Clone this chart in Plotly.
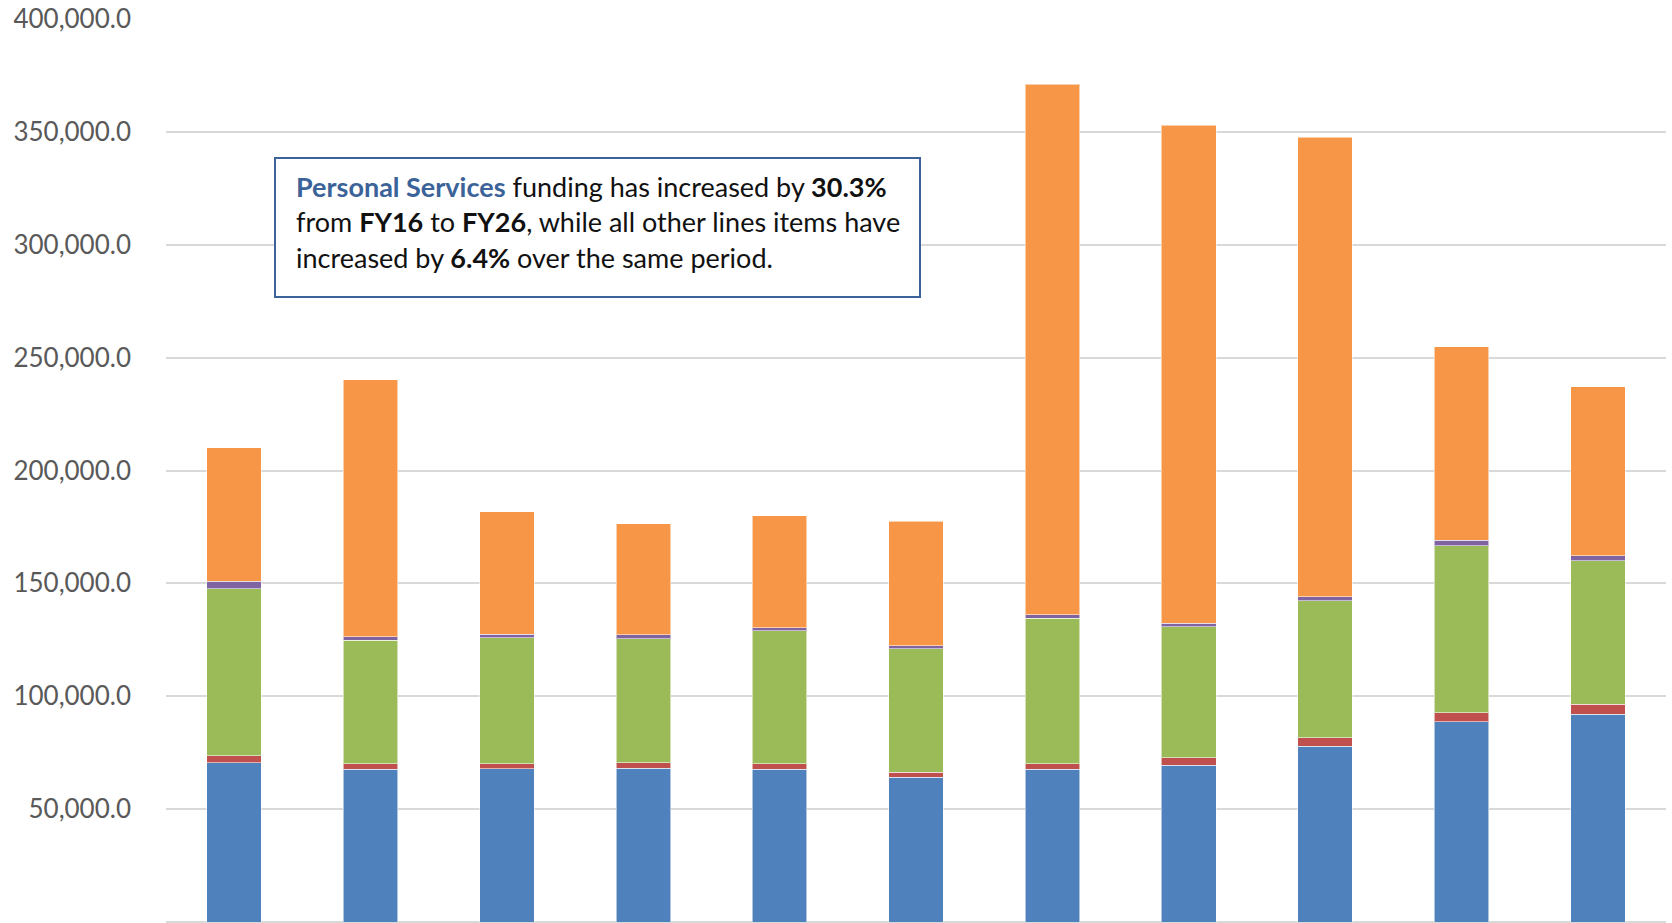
import plotly.graph_objects as go

# Fiscal years shown on the horizontal axis
years = ["FY16", "FY17", "FY18", "FY19", "FY20", "FY21",
         "FY22", "FY23", "FY24", "FY25", "FY26"]

# Funding by line item (stacked bottom to top)
personal_services = [70650, 67700, 67800, 68100, 67700, 64100,
                     67700, 69500, 77900, 88700, 92050]
fringe_other = [3100, 2350, 2350, 2500, 2350, 2200,
                2350, 3350, 3800, 4100, 4400]
contractual = [73900, 54800, 55850, 54950, 58950, 54650,
               64600, 57950, 60700, 73900, 63500]
supplies = [3250, 1600, 1500, 1650, 1450, 1450,
            1450, 1450, 1750, 2350, 2200]
grants = [59250, 113800, 54200, 49200, 49400, 55150,
          234900, 220750, 203450, 85750, 74900]

# Y axis ticks
y_tick_values = [0, 50000, 100000, 150000, 200000, 250000, 300000, 350000, 400000]
y_tick_labels = ["-", "50,000.0", "100,000.0", "150,000.0", "200,000.0",
                 "250,000.0", "300,000.0", "350,000.0", "400,000.0"]

series = [
    ("Personal Services", personal_services, "#4F81BD"),
    ("Fringe Benefits", fringe_other, "#C0504D"),
    ("Contractual Services", contractual, "#9BBB59"),
    ("Supplies & Equipment", supplies, "#8064A2"),
    ("Grants & Subsidies", grants, "#F79646"),
]

fig = go.Figure()
for name, values, color in series:
    fig.add_trace(go.Bar(
        x=years, y=values, name=name,
        marker=dict(color=color, line=dict(color="rgba(255,255,255,0.55)", width=1)),
    ))

W, H = 1672, 923
L, R, T, B = 166, 6, 19, 1

def px_x(p):
    return (p - L) / (W - L - R)

def px_y(p):
    return 1 - (p - T) / (H - T - B)

fig.update_layout(
    width=W, height=H,
    margin=dict(l=L, r=R, t=T, b=B),
    barmode="stack",
    bargap=0.6,
    showlegend=False,
    plot_bgcolor="white",
    paper_bgcolor="white",
    font=dict(family="Lato, 'Open Sans', sans-serif", color="#595959"),
    xaxis=dict(showticklabels=False, showgrid=False, zeroline=False,
               showline=False, ticks=""),
    yaxis=dict(range=[0, 400000], tickvals=y_tick_values, ticktext=y_tick_labels,
               showgrid=True, gridcolor="#D9D9D9", gridwidth=1.5,
               zeroline=True, zerolinecolor="#D9D9D9", zerolinewidth=1.5,
               showline=False, ticks="", ticklabelstandoff=34,
               tickfont=dict(size=26, color="#595959")),
)

# Callout box
fig.add_shape(type="rect", xref="paper", yref="paper",
              x0=px_x(275), x1=px_x(920), y0=px_y(297), y1=px_y(158),
              line=dict(color="#3C629A", width=2), fillcolor="white", layer="above")

callout_lines = [
    "<span style='color:#3B6399'><b>Personal Services</b></span> funding has increased by <b>30.3%</b>",
    "from <b>FY16</b> to <b>FY26</b>, while all other lines items have",
    "increased by <b>6.4%</b> over the same period.",
]
line_centers = [186.0, 222.0, 257.5]
for text, yc in zip(callout_lines, line_centers):
    fig.add_annotation(xref="paper", yref="paper", x=px_x(294), y=px_y(yc),
                       xanchor="left", yanchor="middle", showarrow=False,
                       align="left", text=text,
                       font=dict(size=27, color="#111111",
                                 family="Lato, 'Open Sans', sans-serif"))

fig.write_html("out.html")
